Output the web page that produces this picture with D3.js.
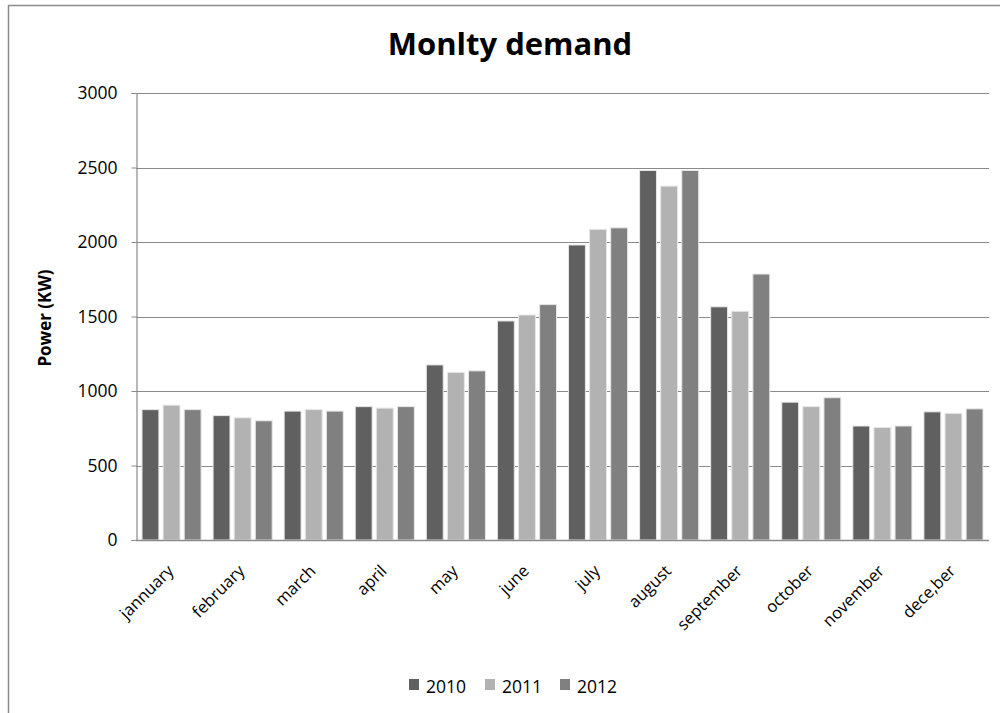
<!DOCTYPE html>
<html><head><meta charset="utf-8">
<script src="https://cdn.jsdelivr.net/npm/d3@7"></script>
<style>body{margin:0;background:#fff}svg{display:block}text{font-family:"Open Sans",Lato,sans-serif}</style>
</head><body><svg id="c" width="1000" height="713"></svg>
<script>
const months = ["jannuary","february","march","april","may","june","july","august","september","october","november","dece,ber"];
const seriesNames = ["2010","2011","2012"];
const v2010 = [875,835,865,895,1175,1470,1980,2480,1565,925,765,860];
const v2011 = [905,820,875,885,1125,1510,2085,2375,1535,895,755,850];
const v2012 = [875,800,865,895,1135,1580,2095,2480,1785,955,765,880];
const yTicks = [0,500,1000,1500,2000,2500,3000];
const colors = ["#606060","#b2b2b2","#808080"];
const seriesVals = [v2010,v2011,v2012];
const FONT = "'Open Sans',Lato,sans-serif";

const svg = d3.select("#c");
// outer frame
svg.append("rect").attr("x",8.5).attr("y",5.5).attr("width",1100).attr("height",800)
  .attr("fill","none").attr("stroke","#8c8c8c").attr("stroke-width",1.5);

const L=136, R=989, T=93, B=540;
const x0 = d3.scaleBand().domain(months).range([L,R]).paddingInner(0).paddingOuter(0);
const x1 = d3.scaleBand().domain(seriesNames).range([6, x0.bandwidth()-6]).paddingInner(0.2);
const y = d3.scaleLinear().domain([0,3000]).range([B,T]);

// gridlines
svg.append("g").selectAll("line").data(yTicks.filter(d=>d>0)).join("line")
  .attr("x1",L).attr("x2",R).attr("y1",d=>Math.round(y(d))+0.5).attr("y2",d=>Math.round(y(d))+0.5)
  .attr("stroke","#8a8a8a").attr("stroke-width",1.2);

// y axis
const ya = svg.append("g").attr("transform",`translate(${L+0.5},0)`)
  .call(d3.axisLeft(y).tickValues(yTicks).tickSize(5).tickPadding(14).tickFormat(d3.format("d")));
ya.select(".domain").attr("stroke","#8a8a8a").attr("stroke-width",1.2);
ya.selectAll(".tick line").attr("stroke","#8a8a8a");
ya.selectAll(".tick text").attr("font-size",17.5).attr("fill","#000").style("font-family",FONT);

// bars
const g = svg.append("g");
months.forEach((m,i)=>{
  seriesNames.forEach((s,j)=>{
    const v = seriesVals[j][i];
    g.append("rect").attr("x",x0(m)+x1(s)).attr("y",y(v)).attr("width",x1.bandwidth()).attr("height",B-y(v))
      .attr("fill",colors[j]).attr("stroke","#e6e6e6").attr("stroke-width",1);
  });
});

// x axis line
svg.append("line").attr("x1",L).attr("x2",R).attr("y1",B+0.5).attr("y2",B+0.5).attr("stroke","#8a8a8a").attr("stroke-width",1.5);

// x labels
svg.append("g").selectAll("text").data(months).join("text")
  .attr("transform",d=>`translate(${x0(d)+x0.bandwidth()/2+3},${B+32}) rotate(-45)`)
  .attr("text-anchor","end").attr("font-size",16.5).attr("fill","#000").text(d=>d);

// title
svg.append("text").attr("x",510).attr("y",55).attr("text-anchor","middle").attr("font-size",31)
  .attr("font-weight","bold").attr("fill","#000").text("Monlty demand");

// y label
svg.append("text").attr("transform","translate(51,318) rotate(-90)").attr("text-anchor","middle")
  .attr("font-size",17).attr("font-weight","bold").attr("fill","#000").text("Power (KW)");

// legend
const lx = [409,485,560];
const lg = svg.append("g");
seriesNames.forEach((s,j)=>{
  lg.append("rect").attr("x",lx[j]).attr("y",679).attr("width",10).attr("height",11).attr("fill",colors[j]);
  lg.append("text").attr("x",lx[j]+17).attr("y",693).attr("font-size",17.5).attr("fill","#000").text(s);
});
</script></body></html>
